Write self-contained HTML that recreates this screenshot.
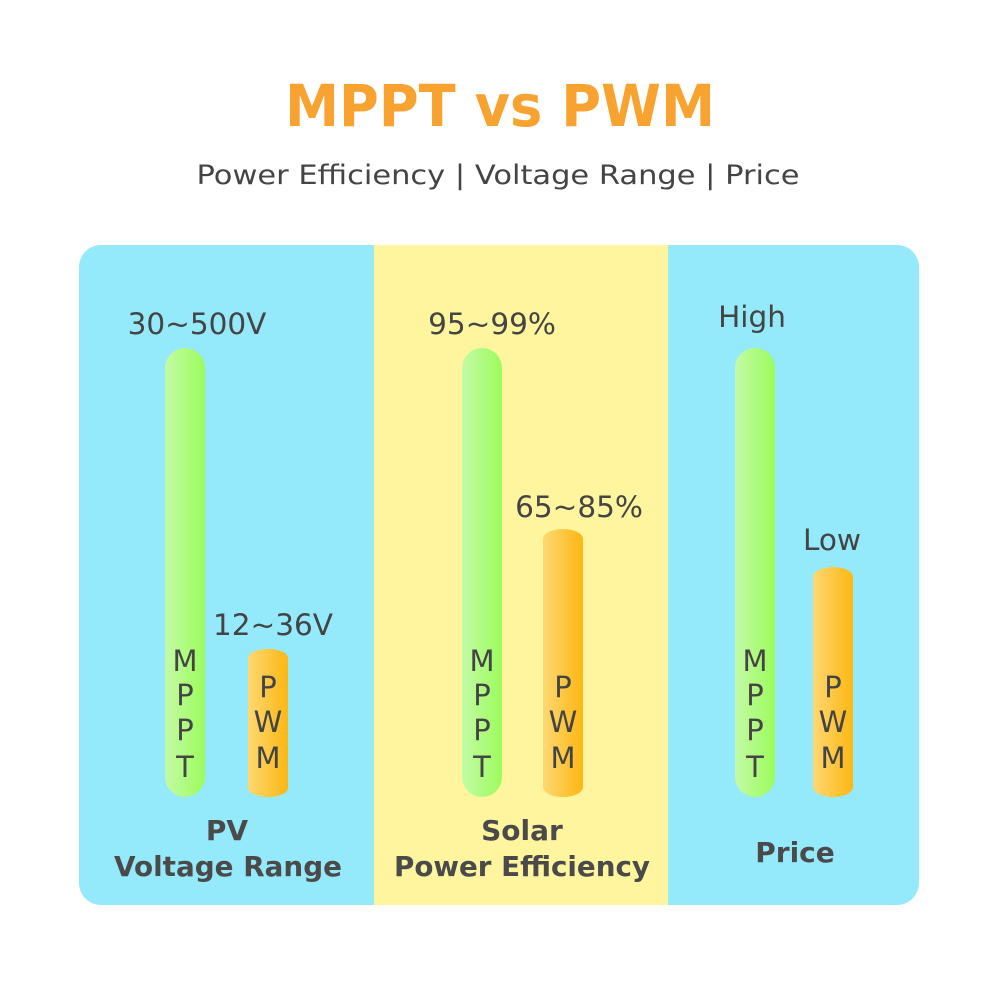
<!DOCTYPE html>
<html><head><meta charset="utf-8"><style>html,body{margin:0;padding:0;background:#fff}svg{display:block}</style></head>
<body>
<svg width="1000" height="1000" xmlns="http://www.w3.org/2000/svg" font-family="DejaVu Sans, Liberation Sans, sans-serif">
<defs>
<linearGradient id="g" x1="0" x2="1" y1="0" y2="0"><stop offset="0" stop-color="#c3fba6"/><stop offset="1" stop-color="#9cfb5c"/></linearGradient>
<linearGradient id="o" x1="0" x2="1" y1="0" y2="0"><stop offset="0" stop-color="#fdd873"/><stop offset="1" stop-color="#fdb712"/></linearGradient>
<clipPath id="c"><rect x="79" y="245" width="840" height="660" rx="22"/></clipPath>
</defs>
<rect width="1000" height="1000" fill="#fff"/>
<text x="500" y="126" text-anchor="middle" font-size="58" font-weight="bold" fill="#f8a22f" textLength="430" lengthAdjust="spacingAndGlyphs">MPPT vs PWM</text>
<text x="498" y="184" text-anchor="middle" font-size="27" fill="#444" textLength="603" lengthAdjust="spacingAndGlyphs">Power Efficiency | Voltage Range | Price</text>
<g clip-path="url(#c)">
<rect x="79" y="245" width="840" height="660" fill="#94e9fa"/>
<rect x="374" y="245" width="294" height="660" fill="#fff59e"/>
</g>
<g fill="#444" font-size="29.5" text-anchor="middle">
<rect x="165" y="348" width="40" height="449" rx="20" fill="url(#g)"/>
<rect x="248" y="649" width="40" height="148" rx="20" ry="9" fill="url(#o)"/>
<rect x="462" y="348" width="40" height="449" rx="20" fill="url(#g)"/>
<rect x="543" y="529" width="40" height="268" rx="20" ry="10" fill="url(#o)"/>
<rect x="735" y="348" width="40" height="449" rx="20" fill="url(#g)"/>
<rect x="813" y="567" width="40" height="230" rx="20" ry="10" fill="url(#o)"/>
<text x="197" y="334">30~500V</text>
<text x="273" y="635">12~36V</text>
<text x="492" y="334">95~99%</text>
<text x="579" y="517">65~85%</text>
<text x="752" y="327">High</text>
<text x="832" y="550">Low</text>
<g font-size="29">
<text x="185" y="671">M</text><text x="185" y="705">P</text><text x="185" y="740">P</text><text x="185" y="777">T</text>
<text x="268" y="697">P</text><text x="268" y="732">W</text><text x="268" y="768">M</text>
<text x="482" y="671">M</text><text x="482" y="705">P</text><text x="482" y="740">P</text><text x="482" y="777">T</text>
<text x="563" y="697">P</text><text x="563" y="732">W</text><text x="563" y="768">M</text>
<text x="755" y="671">M</text><text x="755" y="705">P</text><text x="755" y="740">P</text><text x="755" y="777">T</text>
<text x="833" y="697">P</text><text x="833" y="732">W</text><text x="833" y="768">M</text>
</g>
<g font-size="28" font-weight="bold" fill="#4a4a4a">
<text x="227" y="840">PV</text>
<text x="228" y="876" textLength="228" lengthAdjust="spacingAndGlyphs">Voltage Range</text>
<text x="522" y="840">Solar</text>
<text x="522" y="876" textLength="256" lengthAdjust="spacingAndGlyphs">Power Efficiency</text>
<text x="795" y="862">Price</text>
</g>
</g>
</svg>
</body></html>
